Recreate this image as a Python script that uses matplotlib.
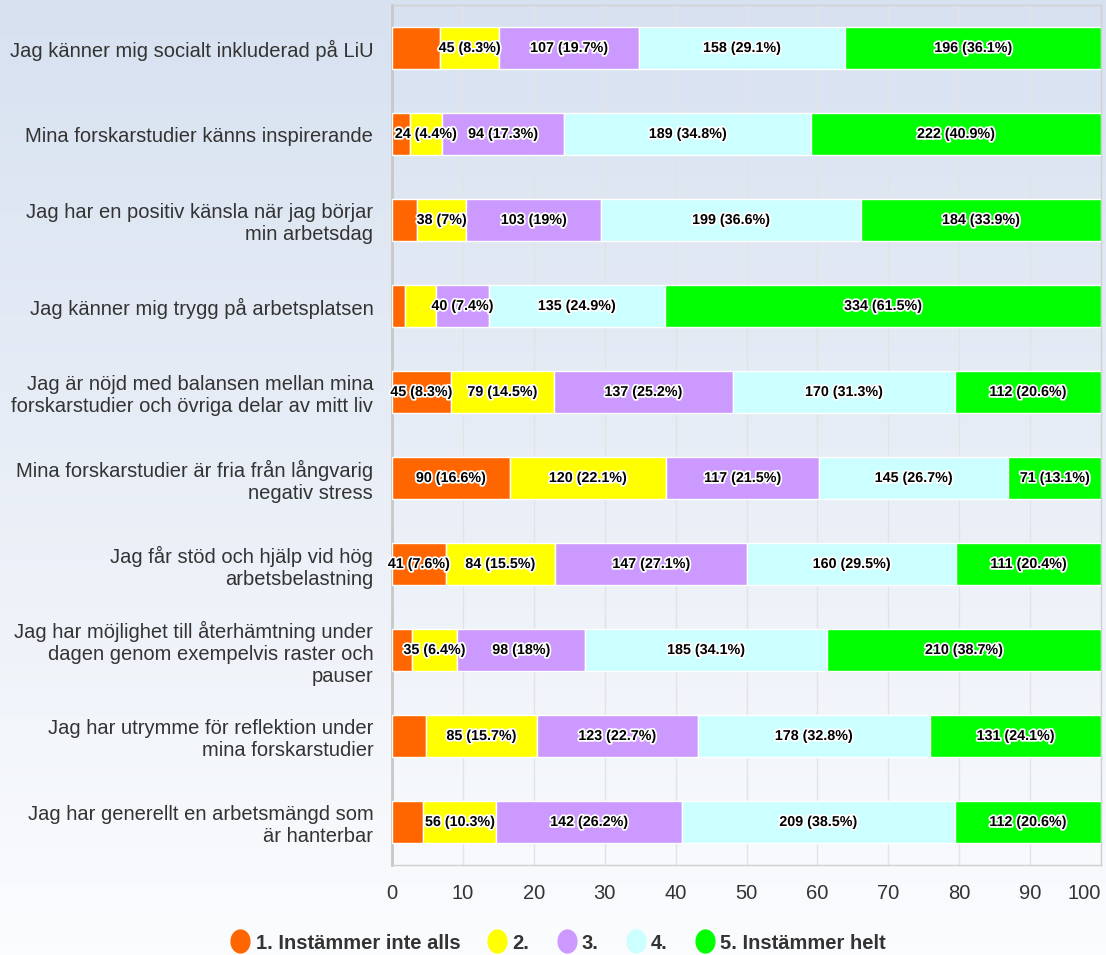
import numpy as np
import matplotlib
matplotlib.use("Agg")
import matplotlib.pyplot as plt
import matplotlib.patheffects as pe
from matplotlib.lines import Line2D
from matplotlib.path import Path

plt.rcParams['font.family'] = ['Liberation Sans', 'DejaVu Sans']

categories = [
    "Jag känner mig socialt inkluderad på LiU",
    "Mina forskarstudier känns inspirerande",
    "Jag har en positiv känsla när jag börjar\nmin arbetsdag",
    "Jag känner mig trygg på arbetsplatsen",
    "Jag är nöjd med balansen mellan mina\nforskarstudier och övriga delar av mitt liv",
    "Mina forskarstudier är fria från långvarig\nnegativ stress",
    "Jag får stöd och hjälp vid hög\narbetsbelastning",
    "Jag har möjlighet till återhämtning under\ndagen genom exempelvis raster och\npauser",
    "Jag har utrymme för reflektion under\nmina forskarstudier",
    "Jag har generellt en arbetsmängd som\när hanterbar",
]

series_names = ["1. Instämmer inte alls", "2.", "3.", "4.", "5. Instämmer helt"]
series_colors = ["#ff6600", "#ffff00", "#cc99ff", "#ccffff", "#00ff00"]

s1 = [37, 14, 19, 10, 45, 90, 41, 15, 26, 24]
s2 = [45, 24, 38, 24, 79, 120, 84, 35, 85, 56]
s3 = [107, 94, 103, 40, 137, 117, 147, 98, 123, 142]
s4 = [158, 189, 199, 135, 170, 145, 160, 185, 178, 209]
s5 = [196, 222, 184, 334, 112, 71, 111, 210, 131, 112]

xticks = [0, 10, 20, 30, 40, 50, 60, 70, 80, 90, 100]

counts = np.array([s1, s2, s3, s4, s5], dtype=float)
totals = counts.sum(axis=0)
pcts = counts / totals * 100

W, H = 1106, 955
fig = plt.figure(figsize=(W / 100, H / 100), dpi=100)

# gradient background
bg = fig.add_axes([0, 0, 1, 1], zorder=-10)
top = np.array([215, 225, 240]) / 255
bot = np.array([251, 252, 254]) / 255
t = np.linspace(0, 1, 256)[:, None]
grad = top[None, :] * (1 - t) + bot[None, :] * t
bg.imshow(grad[:, None, :], aspect='auto', extent=[0, 1, 0, 1])
bg.axis('off')

left, right = 392 / W, 1101 / W
top_y, bot_y = 1 - 5 / H, 1 - 865 / H
ax = fig.add_axes([left, bot_y, right - left, top_y - bot_y])
ax.set_facecolor('none')

n = len(categories)
y = np.arange(n)
cum = np.zeros(n)
segs = []
for i in range(5):
    ax.barh(y, pcts[i], left=cum, height=0.48, color=series_colors[i],
            edgecolor='white', linewidth=1, zorder=3)
    for j in range(n):
        c = cum[j] + pcts[i][j] / 2
        pv = round(pcts[i][j], 1)
        ps = f"{pv:g}"
        txt = ax.text(c, y[j], f"{int(counts[i][j])} ({ps}%)", ha='center', va='center',
                      fontsize=10.3, fontweight='bold', color='black', zorder=5,
                      path_effects=[pe.withStroke(linewidth=2.5, foreground='white')])
        segs.append((j, counts[i][j], txt))
    cum += pcts[i]

ax.set_xlim(0, 100)
ax.set_ylim(n - 0.5, -0.5)
ax.set_yticks(y)
ax.set_yticklabels(categories, fontsize=14.5, color='#333333', ha='right')
ax.set_xticks(xticks)
ax.set_xticklabels([str(v) for v in xticks], fontsize=14.5, color='#333333')
ax.get_xticklabels()[-1].set_ha('right')
ax.tick_params(axis='both', length=0)
ax.tick_params(axis='x', pad=14)
ax.tick_params(axis='y', pad=13.5)
ax.grid(axis='x', color='#e3e3e3', linewidth=1, zorder=0)
ax.set_axisbelow(True)
for s in ['top', 'right', 'bottom']:
    ax.spines[s].set_color('#d0d0d0')
    ax.spines[s].set_linewidth(1)
ax.spines['left'].set_color('#c8c8c8')
ax.spines['left'].set_linewidth(2)

# hide data labels that overlap others or fall well outside the plot area
fig.canvas.draw()
r = fig.canvas.get_renderer()
axbb = ax.get_window_extent(r)
for j in range(n):
    row = sorted([s for s in segs if s[0] == j], key=lambda s: -s[1])
    shown = []
    for _, val, txt in row:
        bb = txt.get_window_extent(r)
        if bb.x0 < axbb.x0 - 7 or bb.x1 > axbb.x1 + 7 or any(bb.x0 < b.x1 and bb.x1 > b.x0 for b in shown):
            txt.set_visible(False)
        else:
            shown.append(bb)

# legend
theta = np.linspace(0, 2 * np.pi, 60)
ell = Path(np.column_stack([0.82 * np.cos(theta), np.sin(theta)]), closed=True)
handles = [Line2D([], [], marker=ell, linestyle='', markersize=16.5,
                  markerfacecolor=c, markeredgecolor=c) for c in series_colors]
leg = fig.legend(handles, series_names, loc='center', bbox_to_anchor=(0.505, 1 - 943 / H),
                 ncol=5, frameon=False, handlelength=0.9, handletextpad=0.3,
                 columnspacing=1.4, prop={'size': 14.5, 'weight': 'bold'})
for t_ in leg.get_texts():
    t_.set_color('#333333')

fig.savefig("out.png", dpi=100)
